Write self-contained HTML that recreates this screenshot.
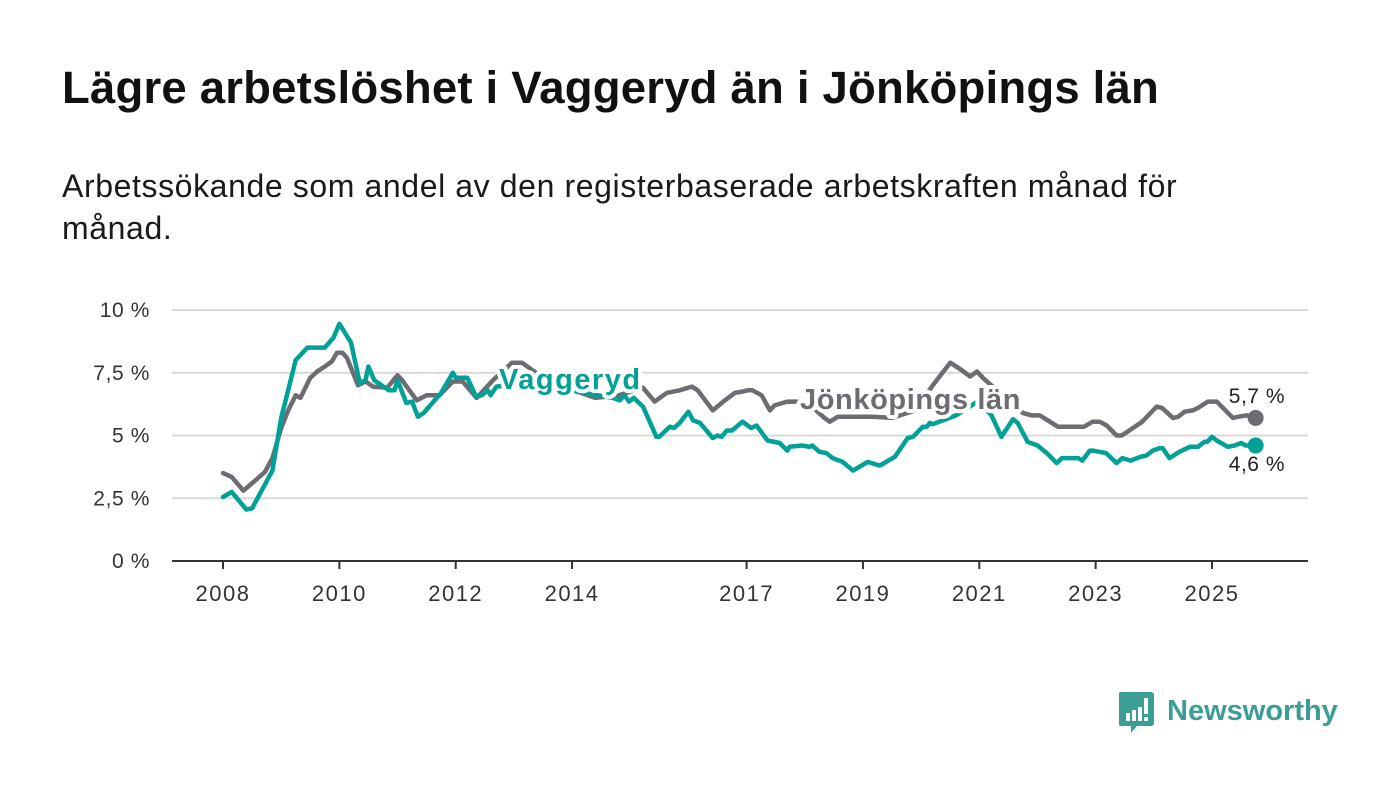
<!DOCTYPE html>
<html><head><meta charset="utf-8">
<style>
body{margin:0;background:#fff;width:1400px;height:794px;overflow:hidden;font-family:"Liberation Sans",sans-serif;}
#title{position:absolute;left:62px;top:62px;font-size:45.5px;font-weight:bold;color:#111;margin:0;letter-spacing:0.2px}
#subtitle{position:absolute;left:62px;top:165px;width:1200px;font-size:32px;letter-spacing:0.6px;line-height:42px;color:#1a1a1a;margin:0}
#logo{position:absolute;left:1119px;top:692px}
</style></head><body>
<h1 id="title">Lägre arbetslöshet i Vaggeryd än i Jönköpings län</h1>
<p id="subtitle">Arbetssökande som andel av den registerbaserade arbetskraften månad för månad.</p>
<svg id="chart" width="1400" height="794" style="position:absolute;left:0;top:0" xmlns="http://www.w3.org/2000/svg"></svg>
<div id="logo">
<svg width="220" height="44" xmlns="http://www.w3.org/2000/svg">
<path d="M2,0 h30 a3,3 0 0 1 3,3 v28 a3,3 0 0 1 -3,3 h-14 l-6,7 v-7 h-10 a3,3 0 0 1 -3,-3 v-28 a3,3 0 0 1 3,-3z" fill="#3a9e94"/>
<rect x="7" y="21" width="4" height="8" fill="#fff"/><rect x="13" y="18" width="4" height="11" fill="#fff"/><rect x="19" y="15" width="4" height="14" fill="#fff"/><rect x="25" y="6" width="4" height="16" fill="#fff"/><rect x="25" y="25" width="4" height="4" fill="#fff"/>
<text x="48" y="28" font-family="Liberation Sans, sans-serif" font-size="29" font-weight="bold" fill="#3a9e94">Newsworthy</text>
</svg></div>
<script>
const yTicks=[0,2.5,5,7.5,10];
const yTickLabels=["0 %","2,5 %","5 %","7,5 %","10 %"];
const xTicks=[2008,2010,2012,2014,2017,2019,2021,2023,2025];
const jkpX=[2008.0,2008.15,2008.35,2008.55,2008.72,2008.85,2009.0,2009.12,2009.25,2009.33,2009.5,2009.62,2009.75,2009.87,2009.96,2010.05,2010.13,2010.32,2010.45,2010.58,2010.82,2011.0,2011.08,2011.33,2011.5,2011.72,2011.95,2012.12,2012.36,2012.46,2012.64,2012.97,2013.14,2013.5,2013.9,2014.4,2014.8,2015.22,2015.42,2015.63,2015.85,2016.06,2016.16,2016.42,2016.6,2016.8,2016.93,2017.02,2017.1,2017.26,2017.4,2017.48,2017.7,2017.86,2018.1,2018.34,2018.43,2018.57,2019.17,2019.5,2019.9,2020.2,2020.5,2020.7,2020.84,2020.96,2021.06,2021.4,2021.75,2021.9,2022.04,2022.18,2022.35,2022.8,2022.95,2023.07,2023.19,2023.36,2023.45,2023.8,2024.05,2024.14,2024.33,2024.42,2024.53,2024.67,2024.76,2024.93,2025.08,2025.36,2025.45,2025.6,2025.75];
const jkpY=[3.5,3.35,2.8,3.2,3.55,4.1,5.3,6.0,6.6,6.5,7.3,7.55,7.75,7.95,8.3,8.3,8.1,7.0,7.15,6.95,6.9,7.4,7.2,6.4,6.6,6.6,7.15,7.15,6.5,6.75,7.2,7.9,7.9,7.3,6.9,6.5,6.6,6.9,6.35,6.7,6.8,6.95,6.8,6.0,6.35,6.7,6.75,6.8,6.8,6.6,6.0,6.2,6.35,6.35,6.2,5.7,5.55,5.75,5.75,5.7,6.0,7.0,7.9,7.6,7.35,7.55,7.3,6.6,5.9,5.8,5.8,5.6,5.35,5.35,5.55,5.55,5.4,5.0,5.0,5.55,6.15,6.1,5.7,5.75,5.95,6.0,6.1,6.35,6.35,5.7,5.75,5.8,5.7];
const vagX=[2008.0,2008.15,2008.4,2008.5,2008.85,2009.0,2009.25,2009.45,2009.75,2009.9,2010.0,2010.2,2010.35,2010.45,2010.5,2010.6,2010.85,2010.95,2011.0,2011.15,2011.25,2011.35,2011.45,2011.6,2011.75,2011.95,2012.0,2012.2,2012.35,2012.45,2012.55,2012.6,2012.7,2013.2,2013.7,2014.2,2014.7,2014.82,2014.9,2014.98,2015.06,2015.22,2015.45,2015.5,2015.68,2015.75,2015.85,2016.0,2016.08,2016.2,2016.42,2016.5,2016.57,2016.66,2016.75,2016.93,2017.08,2017.17,2017.36,2017.57,2017.7,2017.74,2017.95,2018.08,2018.13,2018.25,2018.37,2018.48,2018.65,2018.83,2019.08,2019.29,2019.55,2019.77,2019.86,2020.03,2020.1,2020.15,2020.2,2020.6,2021.0,2021.21,2021.38,2021.58,2021.66,2021.83,2022.0,2022.16,2022.33,2022.42,2022.7,2022.77,2022.9,2022.95,2023.18,2023.36,2023.46,2023.6,2023.77,2023.87,2023.98,2024.1,2024.15,2024.27,2024.44,2024.62,2024.76,2024.87,2024.92,2025.0,2025.08,2025.27,2025.39,2025.5,2025.58,2025.75];
const vagY=[2.55,2.75,2.05,2.1,3.6,5.7,8.0,8.5,8.5,8.9,9.45,8.7,7.1,7.2,7.75,7.2,6.8,6.8,7.2,6.3,6.35,5.75,5.9,6.3,6.7,7.5,7.3,7.3,6.55,6.6,6.8,6.6,6.95,7.1,6.9,6.7,6.5,6.4,6.6,6.35,6.5,6.15,4.95,4.95,5.35,5.3,5.5,5.95,5.6,5.5,4.9,5.0,4.95,5.2,5.2,5.55,5.3,5.4,4.8,4.7,4.4,4.55,4.6,4.55,4.6,4.35,4.3,4.1,3.95,3.6,3.95,3.8,4.15,4.9,4.95,5.35,5.35,5.5,5.45,5.8,6.4,5.8,4.95,5.65,5.5,4.75,4.6,4.3,3.9,4.1,4.1,4.0,4.4,4.4,4.3,3.9,4.1,4.0,4.15,4.2,4.4,4.5,4.5,4.1,4.35,4.55,4.55,4.75,4.75,4.95,4.8,4.55,4.6,4.7,4.6,4.6];
const NS="http://www.w3.org/2000/svg";
const svg=document.getElementById('chart');
const X0=2008,X1=2025,PX0=223,PX1=1212,PY0=561,PY10=310;
function xs(v){return PX0+(v-X0)*(PX1-PX0)/(X1-X0);}
function ys(v){return PY0+(v-0)*(PY10-PY0)/10;}
function mk(tag,attrs,parent){const e=document.createElementNS(NS,tag);for(const k in attrs)e.setAttribute(k,attrs[k]);(parent||svg).appendChild(e);return e;}
const grid=mk('g',{});


yTicks.forEach((t,i)=>{
  if(t>0){const l=mk('line',{x1:172,x2:1308,y1:ys(t),y2:ys(t),stroke:'#d9d9d9','stroke-width':2},grid);
  
  }
  const tx=mk('text',{x:150,y:ys(t)+7,'text-anchor':'end','font-size':21,'letter-spacing':0.6,fill:'#333'});
  
  
  tx.textContent=yTickLabels[i];
});
const ax=mk('line',{x1:172,x2:1308,y1:PY0,y2:PY0,stroke:'#333','stroke-width':2});


xTicks.forEach(t=>{
  const tk=mk('line',{x1:xs(t),x2:xs(t),y1:PY0,y2:PY0+8,stroke:'#333','stroke-width':2});
  
  
  const tx=mk('text',{x:xs(t),y:601,'text-anchor':'middle','font-size':22,'letter-spacing':1.5,fill:'#333'});
  
  
  tx.textContent=t;
});
function line(xa,ya,color,name){
  const d=xa.map((v,i)=>(i?'L':'M')+xs(v).toFixed(1)+','+ys(ya[i]).toFixed(1)).join('');
  const p=mk('path',{d:d,fill:'none',stroke:color,'stroke-width':4.5,'stroke-linejoin':'round','stroke-linecap':'round'});
  
  
  const n=xa.length-1;
  const c=mk('circle',{cx:xs(xa[n]),cy:ys(ya[n]),r:8,fill:color});
  
  
}
line(jkpX,jkpY,'#6e6c72','jonkoping-line');
line(vagX,vagY,'#00a196','vaggeryd-line');
function lbl(x,y,txt,color,name,size,bold,anchor,ls){
  const t=mk('text',{x:x,y:y,'font-size':size,'font-weight':bold?'bold':'normal','letter-spacing':ls||0,fill:color,stroke:'#fff','stroke-width':bold?8:0,'stroke-linejoin':'round','paint-order':'stroke','text-anchor':anchor||'start'});
  
  
  t.textContent=txt;
}
lbl(499,389,'Vaggeryd','#00a196','vaggeryd-label',29,true,'start',1.5);
lbl(800,409,'Jönköpings län','#6e6c72','jonkoping-label',29,true,'start',0.6);
lbl(1285,403,'5,7 %','#222','jonkoping-end-value',21,false,'end',0.5);
lbl(1285,471,'4,6 %','#222','vaggeryd-end-value',21,false,'end',0.5);
</script>
</body></html>
